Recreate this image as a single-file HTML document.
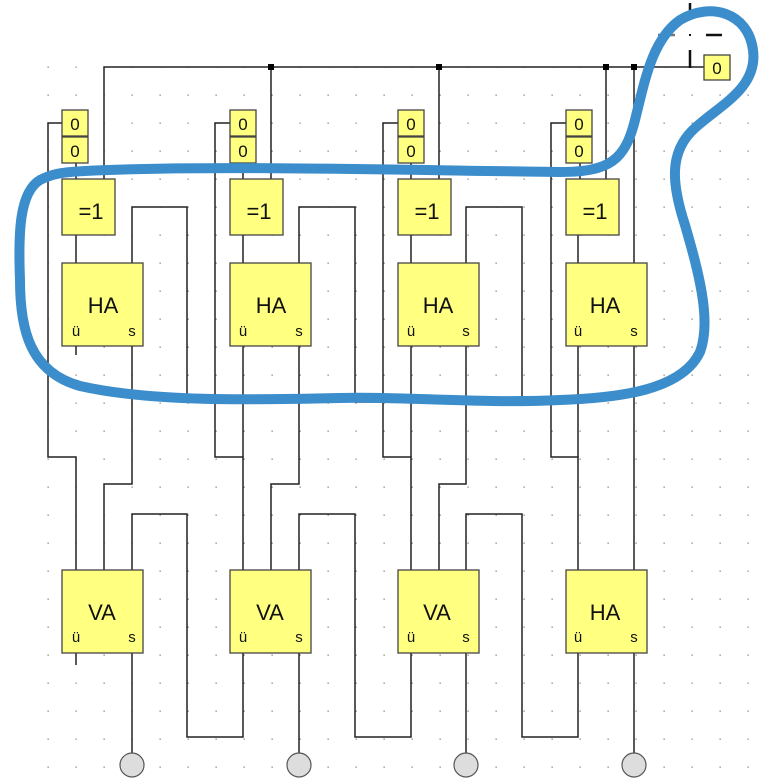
<!DOCTYPE html>
<html><head><meta charset="utf-8"><style>
html,body{margin:0;padding:0;background:#fff;}
svg{display:block;}
text{font-family:"Liberation Sans","DejaVu Sans",sans-serif;fill:#111;}
</style></head><body>
<svg width="770" height="782" viewBox="0 0 770 782" xmlns="http://www.w3.org/2000/svg">
<defs>
<pattern id="dots" x="47" y="66" width="28" height="28" patternUnits="userSpaceOnUse">
<rect x="0.5" y="0.5" width="1.3" height="1.3" fill="#888"/>
</pattern>
</defs>
<rect x="40" y="60" width="715" height="715" fill="url(#dots)"/>

<g fill="none" stroke="#222" stroke-width="1.5">
<path d="M104,179 V67 H704"/>
<path d="M634,67 V263"/>
<path d="M62,123 H48 V457 H76 V570"/>
<path d="M76,163 V179 M76,235 V263 M76,346 V355"/>
<path d="M132,263 V207 H187 V402 H215"/>
<path d="M132,346 V484 H104 V570"/>
<path d="M132,570 V514 H187 V737 H243 V653"/>
<path d="M76,653 V665"/>
<path d="M132,653 V753"/>
<path d="M230,123 H215 V457 H243 V570"/>
<path d="M243,346 V457"/>
<path d="M243,163 V179 M243,235 V263 M271,67 V179"/>
<path d="M299,263 V207 H355 V402 H383"/>
<path d="M299,346 V484 H271 V570"/>
<path d="M299,570 V514 H355 V737 H411 V653"/>
<path d="M299,653 V753"/>
<path d="M398,123 H383 V457 H411 V570"/>
<path d="M411,346 V457"/>
<path d="M411,163 V179 M411,235 V263 M439,67 V179"/>
<path d="M466,263 V207 H522 V402 H551"/>
<path d="M466,346 V484 H439 V570"/>
<path d="M466,570 V514 H522 V737 H578 V653"/>
<path d="M466,653 V753"/>
<path d="M566,123 H551 V457 H578 V570"/>
<path d="M578,346 V457"/>
<path d="M580,163 V179 M578,235 V263 M606,67 V179"/>
<path d="M634,346 V570"/>
<path d="M634,653 V753"/>
</g>
<g fill="#000">
<rect x="268" y="64" width="6" height="6"/>
<rect x="436" y="64" width="6" height="6"/>
<rect x="603" y="64" width="6" height="6"/>
<rect x="631" y="64" width="6" height="6"/>
</g>
<g stroke="#111" stroke-width="2.5">
<path d="M690,50 V68"/>
<path d="M690,3 V12"/>
<path d="M706,35 H722"/>
</g>
<path d="M690,12 V20" stroke="#a0623a" stroke-width="2.5"/>
<path d="M658,35 H675" stroke="#777" stroke-width="2.5"/>
<rect x="689" y="34" width="2" height="2" fill="#111"/>

<g fill="#ffff80" stroke="#444" stroke-width="1.3">
<rect x="62" y="110" width="26" height="26"/><rect x="62" y="137" width="26" height="26"/>
<rect x="230" y="110" width="26" height="26"/><rect x="230" y="137" width="26" height="26"/>
<rect x="398" y="110" width="26" height="26"/><rect x="398" y="137" width="26" height="26"/>
<rect x="566" y="110" width="26" height="26"/><rect x="566" y="137" width="26" height="26"/>
<rect x="704" y="55" width="26" height="25"/>
<rect x="62" y="179" width="53" height="56"/>
<rect x="230" y="179" width="53" height="56"/>
<rect x="398" y="179" width="53" height="56"/>
<rect x="566" y="179" width="53" height="56"/>
<rect x="62" y="263" width="81" height="83"/>
<rect x="230" y="263" width="81" height="83"/>
<rect x="398" y="263" width="81" height="83"/>
<rect x="566" y="263" width="81" height="83"/>
<rect x="62" y="570" width="81" height="83"/>
<rect x="230" y="570" width="81" height="83"/>
<rect x="398" y="570" width="81" height="83"/>
<rect x="566" y="570" width="81" height="83"/>
</g>
<g fill="#ddd" stroke="#555" stroke-width="1.2">
<circle cx="132" cy="765" r="12"/><circle cx="299" cy="765" r="12"/>
<circle cx="466" cy="765" r="12"/><circle cx="634" cy="765" r="12"/>
</g>

<g font-size="17" text-anchor="middle">
<text x="75" y="130">0</text><text x="75" y="157">0</text>
<text x="243" y="130">0</text><text x="243" y="157">0</text>
<text x="411" y="130">0</text><text x="411" y="157">0</text>
<text x="579" y="130">0</text><text x="579" y="157">0</text>
<text x="717" y="74">0</text>
</g>
<g font-size="22" text-anchor="middle">
<text x="91" y="219">=1</text><text x="259" y="219">=1</text>
<text x="427" y="219">=1</text><text x="595" y="219">=1</text>
<text x="103" y="313">HA</text><text x="271" y="313">HA</text>
<text x="438" y="313">HA</text><text x="605" y="313">HA</text>
<text x="102" y="620">VA</text><text x="270" y="620">VA</text>
<text x="437" y="620">VA</text><text x="605" y="620">HA</text>
</g>
<g font-size="15" text-anchor="middle">
<text x="76" y="336">ü</text><text x="132" y="336">s</text>
<text x="243" y="336">ü</text><text x="299" y="336">s</text>
<text x="411" y="336">ü</text><text x="466" y="336">s</text>
<text x="578" y="336">ü</text><text x="634" y="336">s</text>
<text x="76" y="642">ü</text><text x="132" y="642">s</text>
<text x="243" y="642">ü</text><text x="299" y="642">s</text>
<text x="411" y="642">ü</text><text x="466" y="642">s</text>
<text x="578" y="642">ü</text><text x="634" y="642">s</text>
</g>

<path d="M85,171 C200,165 400,170 560,172 C610,172 625,160 635,120 C645,80 652,40 680,20 C710,2 748,12 753,50 C758,88 720,105 695,128 C668,152 672,185 685,225 C698,270 712,320 700,352 C682,390 620,398 560,400 C480,404 400,396 340,398 C250,400 150,402 80,386 C30,372 20,330 20,280 C18,230 20,192 40,180 C55,172 70,172 85,171 Z"
 fill="none" stroke="#3b8dcb" stroke-width="10" stroke-linejoin="round"/>
</svg>
</body></html>
